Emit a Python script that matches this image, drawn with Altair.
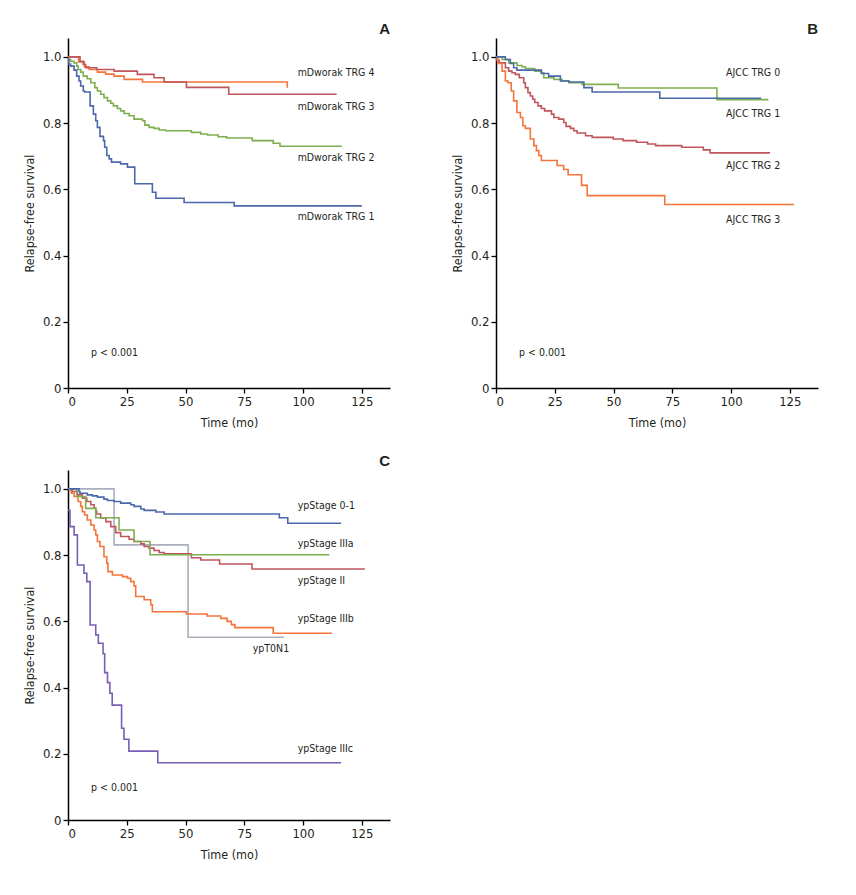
import altair as alt
import pandas as pd

FONT = "DejaVu Sans Condensed, DejaVu Sans, sans-serif"
TXT = "#231f20"

BLUE = "#4b68aa"
GREEN = "#7fae4f"
RED = "#c0565c"
ORANGE = "#f4743a"
GRAY = "#a9afbd"
PURPLE = "#7a5db4"

# ---------------- Panel A : mDworak TRG ----------------
A_trg4_t = [0, 4.5, 7.0, 9.0, 12.5, 16.0, 19.6, 23.9, 31.7, 93.3]
A_trg4_s = [1.0, 0.985, 0.970, 0.962, 0.954, 0.948, 0.942, 0.932, 0.924, 0.907]

A_trg3_t = [0, 5.1, 6.5, 7.5, 12.2, 19.6, 29.5, 36.6, 40.9, 50.4, 68.4, 114.3]
A_trg3_s = [1.0, 0.987, 0.977, 0.967, 0.962, 0.957, 0.947, 0.937, 0.924, 0.908, 0.887, 0.887]

A_trg2_t = [0, 1.1, 2.6, 3.7, 4.3, 5.4, 6.5, 8.2, 9.7, 11.4, 12.5, 13.9, 15.3, 16.8, 18.2,
            19.3, 21.0, 22.4, 23.9, 26.0, 28.1, 31.7, 32.7, 34.5, 36.6, 38.8, 41.6, 52.5,
            56.5, 59.4, 63.9, 67.5, 78.4, 87.3, 90.2, 116.5]
A_trg2_s = [0.992, 0.987, 0.982, 0.972, 0.962, 0.954, 0.942, 0.934, 0.922, 0.907, 0.897,
            0.887, 0.877, 0.867, 0.860, 0.852, 0.844, 0.837, 0.829, 0.822, 0.812, 0.807,
            0.794, 0.787, 0.784, 0.779, 0.777, 0.772, 0.767, 0.764, 0.759, 0.755, 0.747,
            0.739, 0.730, 0.730]

A_trg1_t = [0, 0.3, 1.1, 2.6, 3.7, 4.7, 5.4, 6.5, 7.1, 9.4, 10.8, 11.8, 12.5, 13.6, 15.1,
            15.6, 16.5, 17.5, 18.5, 22.4, 25.3, 28.4, 35.9, 37.4, 49.4, 70.7, 125.0]
A_trg1_s = [1.0, 0.978, 0.972, 0.960, 0.942, 0.927, 0.912, 0.897, 0.894, 0.852, 0.827,
            0.807, 0.787, 0.760, 0.747, 0.727, 0.702, 0.692, 0.682, 0.677, 0.667, 0.617,
            0.591, 0.573, 0.560, 0.550, 0.550]

A_labels = ["mDworak TRG 4", "mDworak TRG 3", "mDworak TRG 2", "mDworak TRG 1"]
A_label_t = [97.7, 97.7, 97.7, 97.7]
A_label_s = [0.952, 0.850, 0.694, 0.515]

# ---------------- Panel B : AJCC TRG ----------------
B_trg0_t = [0, 2.6, 5.4, 8.9, 11.1, 12.5, 16.5, 19.3, 20.3, 24.6, 28.1, 31.0, 36.6, 52.0, 94.0, 115.9]
B_trg0_s = [1.0, 0.992, 0.982, 0.974, 0.970, 0.965, 0.957, 0.952, 0.937, 0.932, 0.927,
            0.922, 0.917, 0.906, 0.871, 0.871]

B_trg1_t = [0, 4.0, 6.1, 7.5, 8.9, 19.3, 22.4, 27.4, 31.0, 37.4, 40.9, 69.7, 112.8]
B_trg1_s = [1.0, 0.992, 0.980, 0.967, 0.960, 0.950, 0.942, 0.927, 0.924, 0.907, 0.894, 0.875, 0.875]

B_trg2_t = [0, 0.3, 1.4, 4.0, 5.4, 6.8, 8.2, 9.9, 11.8, 12.5, 13.6, 14.6, 15.6, 16.5, 17.9,
            19.3, 20.7, 23.6, 24.6, 26.7, 28.8, 29.8, 31.7, 33.1, 34.5, 38.1, 40.9, 49.9,
            54.1, 59.8, 64.5, 67.9, 79.0, 88.2, 91.1, 116.6]
B_trg2_s = [1.0, 0.990, 0.982, 0.967, 0.957, 0.952, 0.947, 0.937, 0.922, 0.907, 0.892,
            0.882, 0.872, 0.862, 0.852, 0.844, 0.837, 0.827, 0.817, 0.812, 0.802, 0.790,
            0.784, 0.777, 0.770, 0.762, 0.757, 0.752, 0.747, 0.742, 0.737, 0.732, 0.727,
            0.719, 0.710, 0.710]

B_trg3_t = [0, 0.8, 2.6, 4.0, 5.1, 6.5, 7.5, 8.9, 10.4, 11.4, 12.5, 14.6, 16.1, 17.2, 18.2,
            19.3, 26.0, 28.8, 30.7, 36.4, 38.8, 71.8, 126.8]
B_trg3_s = [1.0, 0.980, 0.957, 0.927, 0.922, 0.897, 0.867, 0.832, 0.817, 0.792, 0.784,
            0.752, 0.732, 0.717, 0.702, 0.687, 0.672, 0.660, 0.644, 0.612, 0.581, 0.554, 0.554]

B_labels = ["AJCC TRG 0", "AJCC TRG 1", "AJCC TRG 2", "AJCC TRG 3"]
B_label_t = [97.9, 97.9, 97.9, 97.9]
B_label_s = [0.950, 0.827, 0.670, 0.508]

# ---------------- Panel C : ypStage ----------------
C_s01_t = [0, 4.7, 5.1, 8.2, 10.4, 12.5, 15.3, 16.8, 19.6, 22.4, 26.7, 28.1, 31.0, 32.4,
           37.4, 40.9, 89.9, 93.5, 116.2]
C_s01_s = [1.0, 0.992, 0.987, 0.982, 0.979, 0.975, 0.969, 0.965, 0.962, 0.957, 0.952,
           0.947, 0.939, 0.935, 0.930, 0.924, 0.913, 0.896, 0.896]

C_s3a_t = [0, 3.7, 7.5, 11.8, 21.7, 28.1, 34.9, 111.2]
C_s3a_s = [1.0, 0.977, 0.941, 0.913, 0.876, 0.841, 0.801, 0.801]

C_s2_t = [0, 1.8, 4.0, 6.1, 8.0, 9.7, 11.1, 11.8, 12.2, 13.9, 16.1, 18.2, 20.3, 22.4, 26.0,
          28.1, 31.0, 32.4, 34.5, 36.6, 38.8, 40.9, 52.5, 56.5, 64.5, 78.3, 126.3]
C_s2_s = [1.0, 0.992, 0.982, 0.972, 0.962, 0.952, 0.942, 0.932, 0.924, 0.912, 0.901, 0.886,
          0.868, 0.856, 0.848, 0.841, 0.834, 0.826, 0.821, 0.814, 0.808, 0.804, 0.792,
          0.785, 0.773, 0.758, 0.758]

C_s3b_t = [0, 0.9, 1.4, 2.6, 4.3, 5.4, 6.1, 7.1, 8.2, 9.7, 11.1, 11.8, 12.5, 13.6, 15.3,
           16.5, 17.0, 18.9, 23.2, 25.3, 26.7, 28.1, 28.8, 32.4, 35.2, 35.9, 50.4, 59.2,
           65.0, 67.7, 69.5, 71.0, 87.3, 112.3]
C_s3b_s = [1.0, 0.997, 0.987, 0.977, 0.962, 0.947, 0.931, 0.921, 0.906, 0.891, 0.876,
           0.861, 0.841, 0.826, 0.795, 0.775, 0.750, 0.740, 0.735, 0.730, 0.720, 0.707,
           0.675, 0.665, 0.650, 0.629, 0.622, 0.616, 0.609, 0.600, 0.590, 0.581, 0.564, 0.564]

C_t0n1_t = [0, 19.6, 51.1, 92.0]
C_t0n1_s = [1.0, 0.831, 0.552, 0.552]

C_s3c_t = [0, 0.85, 2.6, 4.0, 6.8, 8.0, 9.4, 11.8, 12.9, 14.9, 15.6, 16.8, 17.8, 18.8,
           22.8, 23.8, 25.9, 38.2, 116.2]
C_s3c_s = [0.935, 0.886, 0.861, 0.770, 0.745, 0.720, 0.589, 0.559, 0.534, 0.502, 0.445,
           0.415, 0.383, 0.347, 0.277, 0.244, 0.208, 0.173, 0.173]

C_labels = ["ypStage 0-1", "ypStage IIIa", "ypStage II", "ypStage IIIb", "ypT0N1", "ypStage IIIc"]
C_label_t = [97.7, 97.7, 97.7, 97.7, 78.6, 97.7]
C_label_s = [0.949, 0.834, 0.722, 0.607, 0.517, 0.215]

P_TEXT = "p < 0.001"
X_TICKS = [0, 25, 50, 75, 100, 125]
Y_TICKS = [0, 0.2, 0.4, 0.6, 0.8, 1.0]

W, H = 322, 350
XDOM = [0, 137]
YDOM = [0, 1.057]


def xenc():
    return alt.X("t:Q", scale=alt.Scale(domain=XDOM, nice=False, zero=False),
                 axis=alt.Axis(values=X_TICKS, title="Time (mo)", format="d"))


def yenc():
    return alt.Y("s:Q", scale=alt.Scale(domain=YDOM, nice=False),
                 axis=alt.Axis(values=Y_TICKS, title="Relapse-free survival",
                               labelExpr="datum.value == 0 ? '0' : format(datum.value, '.1f')"))


def panel(series, labels, lab_t, lab_s, letter, p_s):
    layers = []
    for t, s, col in series:
        df = pd.DataFrame({"t": t, "s": s})
        layers.append(alt.Chart(df).mark_line(interpolate="step-after", strokeWidth=1.6,
                                              color=col).encode(x=xenc(), y=yenc()))
    ldf = pd.DataFrame({"t": lab_t, "s": lab_s, "label": labels})
    layers.append(alt.Chart(ldf).mark_text(align="left", baseline="middle", fontSize=10.5,
                                           font=FONT, color=TXT)
                  .encode(x=xenc(), y=yenc(), text="label:N"))
    pdf = pd.DataFrame({"t": [9.8], "s": [p_s], "label": [P_TEXT]})
    layers.append(alt.Chart(pdf).mark_text(align="left", baseline="middle", fontSize=10.5,
                                           font=FONT, color=TXT)
                  .encode(x=xenc(), y=yenc(), text="label:N"))
    return alt.layer(*layers).properties(
        width=W, height=H,
        title=alt.TitleParams(letter, anchor="end", fontSize=15, fontWeight="bold",
                              font="Liberation Sans, Arial, sans-serif", color=TXT, offset=1),
    )


A = panel([(A_trg2_t, A_trg2_s, GREEN), (A_trg1_t, A_trg1_s, BLUE),
           (A_trg4_t, A_trg4_s, ORANGE), (A_trg3_t, A_trg3_s, RED)],
          A_labels, A_label_t, A_label_s, "A", 0.105)
B = panel([(B_trg2_t, B_trg2_s, RED), (B_trg3_t, B_trg3_s, ORANGE),
           (B_trg0_t, B_trg0_s, GREEN), (B_trg1_t, B_trg1_s, BLUE)],
          B_labels, B_label_t, B_label_s, "B", 0.105)
C = panel([(C_t0n1_t, C_t0n1_s, GRAY), (C_s3b_t, C_s3b_s, ORANGE), (C_s2_t, C_s2_s, RED),
           (C_s3a_t, C_s3a_s, GREEN), (C_s01_t, C_s01_s, BLUE), (C_s3c_t, C_s3c_s, PURPLE)],
          C_labels, C_label_t, C_label_s, "C", 0.097)

chart = alt.vconcat(alt.hconcat(A, B, spacing=61), C, spacing=25).properties(
    padding={"left": 15, "top": 14, "right": 5, "bottom": 5},
    background="white",
).configure_view(stroke=None).configure_axis(
    grid=False, domainColor="#000000", domainWidth=1.5, tickColor="#000000", tickWidth=1.3,
    tickSize=5, labelFont=FONT, labelFontSize=13, labelColor=TXT, titleFont=FONT,
    titleFontSize=12.5, titleColor=TXT, titleFontWeight="normal", labelPadding=2,
).configure_axisY(titlePadding=6).configure_axisX(titlePadding=8)

chart.save("out.html", embed_options={"renderer": "svg", "actions": False})
